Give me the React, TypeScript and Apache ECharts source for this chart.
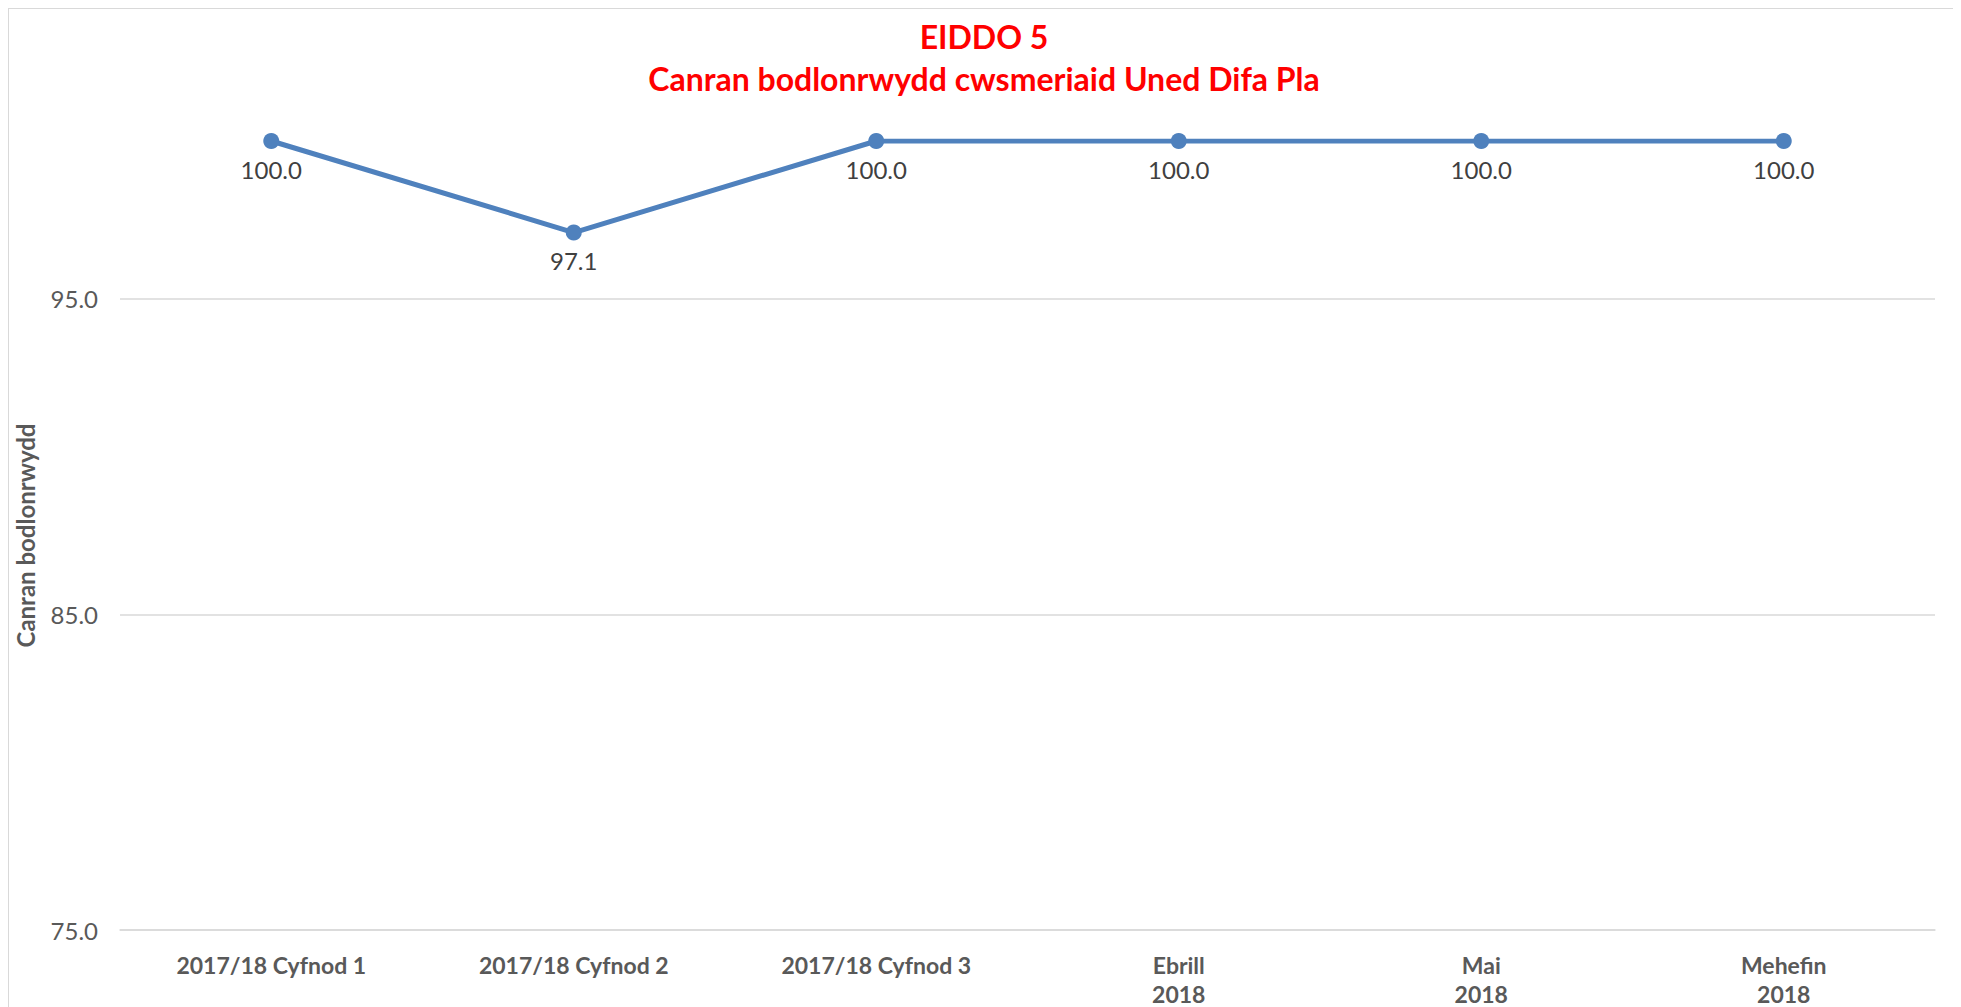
import React, { useEffect, useRef } from "react";
import * as echarts from "echarts";

const categories = [
  "2017/18 Cyfnod 1",
  "2017/18 Cyfnod 2",
  "2017/18 Cyfnod 3",
  "Ebrill\n2018",
  "Mai\n2018",
  "Mehefin\n2018",
];
const satisfaction = [100.0, 97.1, 100.0, 100.0, 100.0, 100.0];
const titleLines = ["EIDDO 5", "Canran bodlonrwydd cwsmeriaid Uned Difa Pla"];
const yAxisTitle = "Canran bodlonrwydd";

export default function App() {
  const ref = useRef<HTMLDivElement>(null);
  useEffect(() => {
    if (!ref.current) return;
    const chart = echarts.init(ref.current, null, { renderer: "svg" });
    const titleStyle = {
      color: "#ff0000",
      fontFamily: "Lato",
      fontWeight: "bold",
      fontSize: 32,
      lineHeight: 42,
    };
    chart.setOption({
      animation: false,
      backgroundColor: "#ffffff",
      textStyle: { fontFamily: "Lato" },
      title: [
        { text: titleLines[0], left: "center", top: 6, padding: 0, textStyle: titleStyle },
        { text: titleLines[1], left: "center", top: 48, padding: 0, textStyle: titleStyle },
      ],
      grid: {
        left: 111,
        right: 24,
        top: 132,
        bottom: 77,
        containLabel: false,
        outerBoundsMode: "none",
      },
      xAxis: {
        type: "category",
        data: categories,
        boundaryGap: true,
        axisLine: { show: true, lineStyle: { color: "#d9d9d9", width: 1.5 } },
        axisTick: { show: false },
        axisLabel: {
          color: "#595959",
          fontFamily: "Lato",
          fontWeight: "bold",
          fontSize: 23,
          lineHeight: 29,
          margin: 20,
          interval: 0,
        },
      },
      yAxis: {
        type: "value",
        min: 75,
        max: 100,
        interval: 10,
        name: yAxisTitle,
        nameLocation: "middle",
        nameRotate: 90,
        nameGap: 83,
        nameTextStyle: {
          color: "#595959",
          fontFamily: "Lato",
          fontWeight: "bold",
          fontSize: 24,
        },
        axisLine: { show: false },
        axisTick: { show: false },
        axisLabel: {
          color: "#595959",
          fontFamily: "Lato",
          fontSize: 24,
          margin: 22,
          showMaxLabel: false,
          formatter: (v: number) => (v === 100 ? "" : v.toFixed(1)),
        },
        splitLine: {
          show: true,
          showMaxLine: false,
          lineStyle: { color: "#d9d9d9", width: 1.5 },
        },
      },
      series: [
        {
          type: "line",
          data: satisfaction,
          symbol: "circle",
          symbolSize: 16,
          lineStyle: { color: "#4f81bd", width: 5 },
          itemStyle: { color: "#4f81bd" },
          label: {
            show: true,
            position: "bottom",
            distance: 8,
            color: "#404040",
            fontFamily: "Lato",
            fontSize: 24,
            formatter: (p: any) => Number(p.value).toFixed(1),
          },
        },
      ],
    });
    return () => chart.dispose();
  }, []);
  return (
    <div
      style={{
        width: 1950,
        height: 998,
        borderTop: "1px solid #d9d9d9",
        borderLeft: "1px solid #d9d9d9",
        borderRight: "1px solid #d9d9d9",
        background: "#fff",
      }}
    >
      <div ref={ref} style={{ width: 1950, height: 998 }} />
    </div>
  );
}
